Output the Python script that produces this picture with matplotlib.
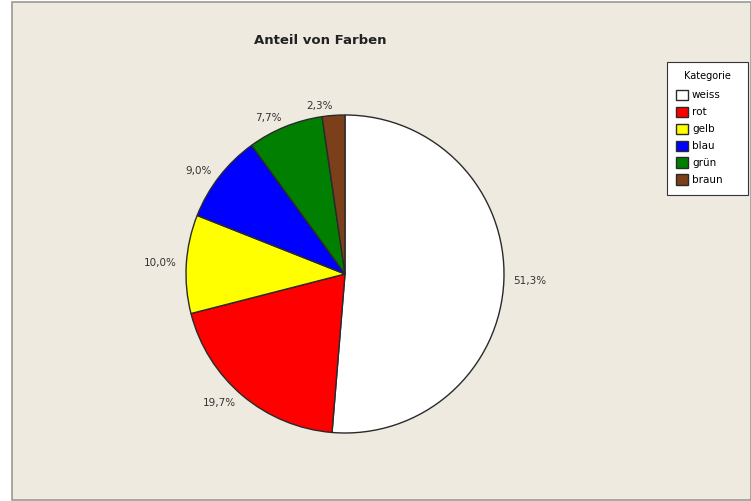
import matplotlib
matplotlib.use("Agg")
import matplotlib.pyplot as plt
from matplotlib.patches import Rectangle

categories = ["weiss", "rot", "gelb", "blau", "grün", "braun"]
shares = [51.3, 19.7, 10.0, 9.0, 7.7, 2.3]
colors = ["#FFFFFF", "#FF0000", "#FFFF00", "#0000FF", "#007F00", "#7B3F1A"]
title = "Anteil von Farben"
legend_title = "Kategorie"

W, H = 751, 501
plt.rcParams["font.family"] = ["DejaVu Sans"]
fig = plt.figure(figsize=(W / 100, H / 100), dpi=100, facecolor="white")

# panel background with thin gray frame
fig.patches.append(Rectangle((12 / W, 1 / H), (W - 12) / W, (H - 3) / H,
                             transform=fig.transFigure, facecolor="#EEEAE0",
                             edgecolor="#9A9A94", linewidth=1.2, zorder=-5))

cx, cy, r = 345, 274, 159
ax = fig.add_axes([(cx - r) / W, (H - cy - r) / H, 2 * r / W, 2 * r / H])
ax.set_zorder(2)
ax.patch.set_visible(False)
pct_labels = [f"{v:.1f}%".replace(".", ",") for v in shares]
wedges, texts = ax.pie(
    shares, colors=colors, startangle=90, counterclock=False,
    labels=pct_labels, labeldistance=1.06,
    wedgeprops=dict(edgecolor="#2a2a2a", linewidth=1.0),
    textprops=dict(fontsize=7.5, color="#333333"), radius=1)
ax.set_xlim(-1, 1)
ax.set_ylim(-1, 1)
ax.set_aspect("auto")
ax.axis("off")

fig.text(320 / W, 1 - 41 / H, title, ha="center", va="center",
         fontsize=9.5, fontweight="bold", color="#222222")

leg = fig.legend(wedges, categories, title=legend_title,
                 loc="upper left",
                 bbox_to_anchor=(667 / W, (H - 197) / H, 81 / W, 135 / H),
                 mode="expand",
                 fontsize=7.5, title_fontsize=7, frameon=True, fancybox=False,
                 edgecolor="#333333", facecolor="white", framealpha=1,
                 handlelength=1.15, handleheight=1.15, handletextpad=0.35,
                 labelspacing=0.6, borderpad=0.9, borderaxespad=0)
leg.get_frame().set_linewidth(0.8)
leg.set_zorder(3)
leg._legend_box.sep = 6

fig.savefig("out.png", dpi=100, facecolor=fig.get_facecolor())
